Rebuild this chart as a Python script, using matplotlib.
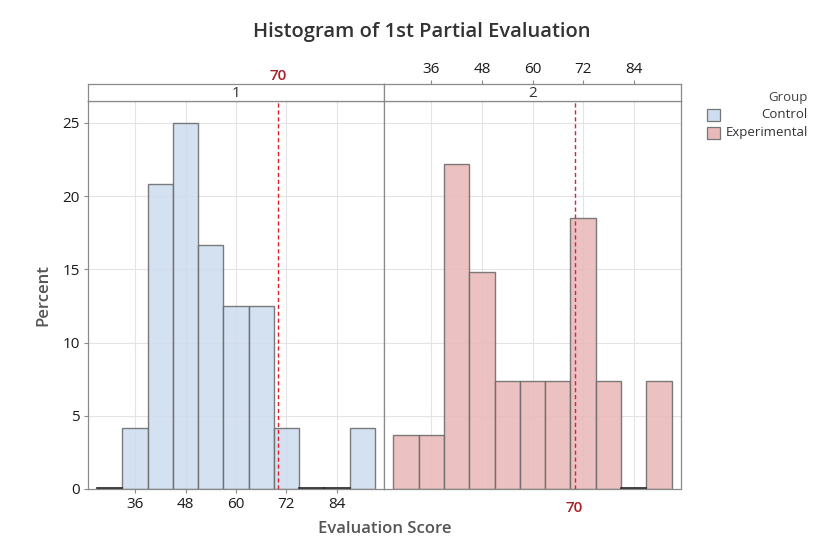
import numpy as np
import matplotlib
matplotlib.use('Agg')
import matplotlib.pyplot as plt
from matplotlib.patches import Rectangle

plt.rcParams['font.family'] = ['Open Sans', 'DejaVu Sans']

# histogram data (percent per bin, bin width 6)
bin_centers = [30, 36, 42, 48, 54, 60, 66, 72, 78, 84, 90]
control_pct = [0, 4.17, 20.83, 25.0, 16.67, 12.5, 12.5, 4.17, 0, 0, 4.17]
experimental_pct = [3.7, 3.7, 22.2, 14.8, 7.4, 7.4, 7.4, 18.5, 7.4, 0, 7.4]
bin_width = 6
xticks = [36, 48, 60, 72, 84]
yticks = [0, 5, 10, 15, 20, 25]
ref_value = 70
panel_names = ['1', '2']
groups = ['Control', 'Experimental']
colors = ['#cfddf0', '#eab9ba']

W, H = 836, 557
fig = plt.figure(figsize=(W/100, H/100), dpi=100)

def fx(px): return px / W
def fy(py): return 1 - py / H

spine_c = '#8a8a8a'
grid_c = '#e4e4e4'
txt_c = '#1a1a1a'
red = '#a8202a'
tsize = 11

panels = [(88, 384), (384, 681)]
top, bottom, strip_top = 101, 489, 84
data = [control_pct, experimental_pct]

for i, (x0, x1) in enumerate(panels):
    ax = fig.add_axes([fx(x0), fy(bottom), fx(x1 - x0), fy(top) - fy(bottom)])
    ax.set_xlim(24.8, 95.2)
    ax.set_ylim(0, 26.5)
    for t in xticks:
        ax.axvline(t, color=grid_c, lw=0.8, zorder=0)
    for t in yticks[1:]:
        ax.axhline(t, color=grid_c, lw=0.8, zorder=0)
    ax.bar(bin_centers, data[i], width=bin_width, color=colors[i],
           edgecolor='#6a6a6a', linewidth=1.0, alpha=0.88, zorder=2)
    # zero bins drawn as dark line
    for c, v in zip(bin_centers, data[i]):
        if v == 0:
            ax.plot([c - bin_width/2, c + bin_width/2], [0.05, 0.05], color='#222222', lw=1.2, zorder=3)
    ax.axvline(ref_value, color='#e0202a', lw=1.0, ls=(0, (3, 2)), zorder=4)
    for s in ax.spines.values():
        s.set_color(spine_c)
        s.set_linewidth(0.9)
    if i == 0:
        ax.set_yticks(yticks)
        ax.tick_params(axis='y', length=3, color=spine_c, labelsize=tsize, labelcolor=txt_c, pad=3)
        ax.set_xticks(xticks)
        ax.tick_params(axis='x', length=3, color=spine_c, labelsize=tsize, labelcolor=txt_c, pad=3)
        ax.set_ylabel('Percent', fontsize=12, color='#555555', fontweight='semibold', labelpad=8)
    else:
        ax.set_yticks([])
        ax.set_xticks([ref_value])
        ax.set_xticklabels([str(ref_value)])
        ax.tick_params(axis='x', length=0, labelsize=tsize, labelcolor=red, pad=9)
        for lbl in ax.get_xticklabels():
            lbl.set_fontweight('semibold')

    # strip on top
    sax = fig.add_axes([fx(x0), fy(top), fx(x1 - x0), fy(strip_top) - fy(top)])
    sax.set_xlim(24.8, 95.2)
    sax.set_ylim(0, 1)
    sax.set_yticks([])
    for s in sax.spines.values():
        s.set_color(spine_c)
        s.set_linewidth(0.9)
    sax.text(0.5, 0.45, panel_names[i], transform=sax.transAxes, ha='center', va='center',
             fontsize=11, color='#333333')
    sax.xaxis.tick_top()
    if i == 1:
        sax.set_xticks(xticks)
        sax.tick_params(axis='x', length=3, color=spine_c, labelsize=tsize, labelcolor=txt_c, pad=2)
    else:
        sax.set_xticks([ref_value])
        sax.set_xticklabels([str(ref_value)])
        sax.tick_params(axis='x', length=0, labelsize=tsize, labelcolor=red, pad=1)
        for lbl in sax.get_xticklabels():
            lbl.set_fontweight('semibold')

fig.text(fx(422), fy(32), 'Histogram of 1st Partial Evaluation', ha='center', va='center',
         fontsize=14.5, fontweight='semibold', color='#333333')
fig.text(fx(385), fy(529), 'Evaluation Score', ha='center', va='center',
         fontsize=12, fontweight='semibold', color='#555555')

# legend
fig.text(fx(808), fy(98), 'Group', ha='right', va='center', fontsize=9.5, color='#444444')
for k, (g, c) in enumerate(zip(groups, colors)):
    yc = 115 + 18 * k
    fig.patches.append(Rectangle((fx(707), fy(yc + 6)), fx(13), fy(yc - 6) - fy(yc + 6),
                                 transform=fig.transFigure, facecolor=c, edgecolor='#777777', lw=0.9))
    fig.text(fx(808), fy(yc), g, ha='right', va='center', fontsize=9.5, color='#333333')

fig.savefig('out.png', dpi=100)
